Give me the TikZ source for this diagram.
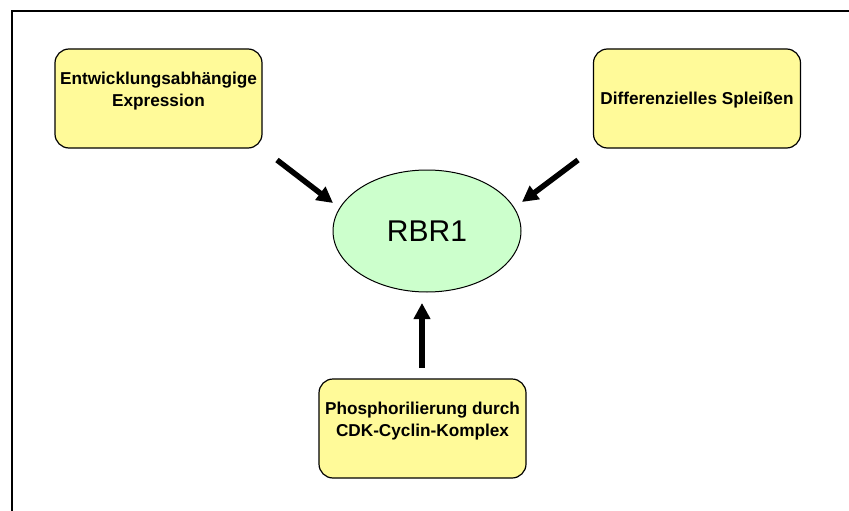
\documentclass[tikz,border=0pt]{standalone}
\usepackage{fontspec}
\setmainfont{Liberation Sans}
\usetikzlibrary{arrows.meta,shapes.geometric}
\begin{document}
\begin{tikzpicture}[x=1pt,y=-1pt,
  box/.style={draw=black,line width=1.2pt,fill=yellow!40!white,rounded corners=14pt,minimum width=207pt,minimum height=99pt,inner sep=0pt},
  boxtext/.style={align=center,font=\bfseries\fontsize{17.2}{22}\selectfont,inner sep=0pt},
  oval/.style={ellipse,draw=black,line width=1pt,fill=green!20!white,minimum width=188pt,minimum height=122pt,inner sep=0pt,font=\fontsize{30}{34}\selectfont},
  arr/.style={line width=5.5pt,-{Triangle[length=16pt,width=16pt]}}]
\useasboundingbox (0,0) rectangle (849,511);
\fill[white] (0,0) rectangle (849,511);
\draw[line width=2pt] (12,511) -- (12,11) -- (849,11);
\node[box] (b1) at (158.5,98.5) {};
\node[boxtext] (t1) at (158.5,91) {Entwicklungsabhängige\\Expression};
\node[box] (b2) at (697,98.5) {};
\node[boxtext] (t2) at (697,100) {Differenzielles Spleißen};
\node[box] (b3) at (422.5,428.5) {};
\node[boxtext] (t3) at (422.5,421.5) {Phosphorilierung durch\\CDK-Cyclin-Komplex};
\node[oval] (r) at (427,231) {RBR1};
\coordinate (s1) at (277,160);
\coordinate (e1) at (333,203);
\coordinate (s2) at (578,160);
\coordinate (e2) at (522,202);
\coordinate (s3) at (422,368);
\coordinate (e3) at (422,303);
\draw[arr] (s1) -- (e1);
\draw[arr] (s2) -- (e2);
\draw[arr] (s3) -- (e3);
\end{tikzpicture}
\end{document}
